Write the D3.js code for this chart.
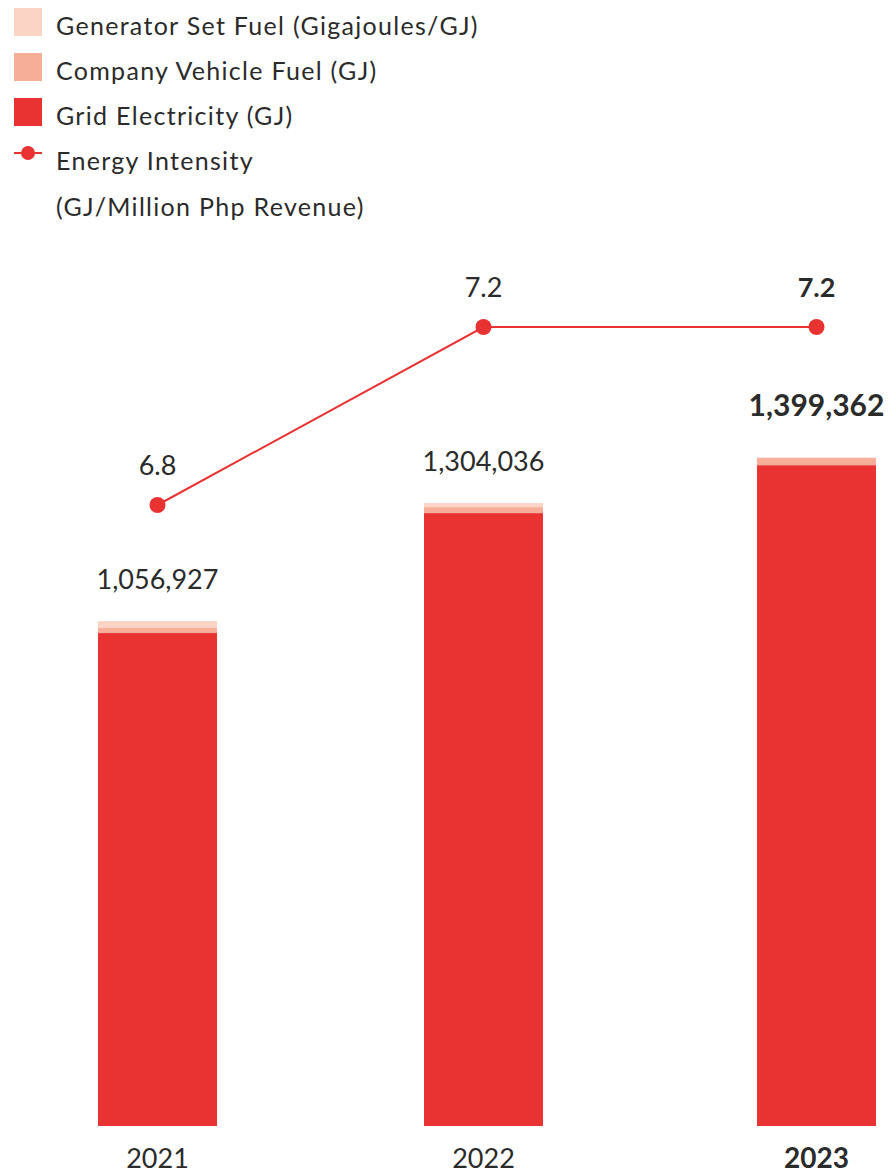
<!DOCTYPE html>
<html>
<head>
<meta charset="utf-8">
<script src="https://cdn.jsdelivr.net/npm/d3@7"></script>
<style>
  body { margin: 0; background: #fff; }
  text { font-family: Lato, "Noto Sans", sans-serif; fill: #2b2b2b; }
</style>
</head>
<body>
<div id="chart"></div>
<script>
// data
var years = ["2021", "2022", "2023"];
var generatorFuel = [14500, 8500, 1000];
var vehicleFuel = [10500, 12500, 15000];
var gridElectricity = [1031927, 1283036, 1383362];
var totals = [1056927, 1304036, 1399362];
var intensity = [6.8, 7.2, 7.2];
var seriesNames = ["Generator Set Fuel (Gigajoules/GJ)", "Company Vehicle Fuel (GJ)", "Grid Electricity (GJ)"];
var seriesColors = ["#fcd4c5", "#f6ae98", "#e93333"];
var lineColor = "#e93333";

var width = 890, height = 1175;

var svg = d3.select("#chart").append("svg")
    .attr("width", width)
    .attr("height", height);

// stacked bars
var table = years.map(function (y, i) {
    return { year: y, grid: gridElectricity[i], vehicle: vehicleFuel[i], generator: generatorFuel[i] };
});
var stack = d3.stack().keys(["grid", "vehicle", "generator"]);
var layers = stack(table);
var keyColor = { grid: seriesColors[2], vehicle: seriesColors[1], generator: seriesColors[0] };

// bar centres are not quite evenly spaced in the original
var x = d3.scaleOrdinal()
    .domain(years)
    .range([157.5, 483.5, 816.5]);
var barWidth = 119;

var y = d3.scaleLinear()
    .domain([0, 1000000])
    .range([1126, 1126 - 477.7]);

svg.selectAll(".layer")
    .data(layers)
    .enter().append("g")
    .attr("class", "layer")
    .attr("fill", function (d) { return keyColor[d.key]; })
    .selectAll("rect")
    .data(function (d) { return d; })
    .enter().append("rect")
    .attr("x", function (d) { return x(d.data.year) - barWidth / 2; })
    .attr("width", barWidth)
    .attr("y", function (d) { return y(d[1]); })
    .attr("height", function (d) { return y(d[0]) - y(d[1]); });

// total labels
svg.selectAll(".total")
    .data(totals)
    .enter().append("text")
    .attr("class", "total")
    .attr("x", function (d, i) { return x(years[i]); })
    .attr("y", function (d, i) { return y(d) - (i == 2 ? 42 : 32); })
    .attr("text-anchor", "middle")
    .attr("font-size", function (d, i) { return i == 2 ? 30 : 27; })
    .attr("font-weight", function (d, i) { return i == 2 ? 700 : 400; })
    .text(function (d) { return d3.format(",")(d); });

// intensity line
var yLine = d3.scaleLinear()
    .domain([6.8, 7.2])
    .range([505, 327]);

svg.append("path")
    .datum(intensity)
    .attr("fill", "none")
    .attr("stroke", lineColor)
    .attr("stroke-width", 2)
    .attr("d", d3.line()
        .x(function (d, i) { return x(years[i]); })
        .y(function (d) { return yLine(d); }));

svg.selectAll(".dot")
    .data(intensity)
    .enter().append("circle")
    .attr("cx", function (d, i) { return x(years[i]); })
    .attr("cy", function (d) { return yLine(d); })
    .attr("r", 8)
    .attr("fill", lineColor);

svg.selectAll(".ilabel")
    .data(intensity)
    .enter().append("text")
    .attr("class", "ilabel")
    .attr("x", function (d, i) { return x(years[i]); })
    .attr("y", function (d) { return yLine(d) - 30; })
    .attr("text-anchor", "middle")
    .attr("font-size", 27)
    .attr("font-weight", function (d, i) { return i == 2 ? 700 : 400; })
    .text(function (d) { return d3.format(".1f")(d); });

// x axis labels
svg.selectAll(".year")
    .data(years)
    .enter().append("text")
    .attr("class", "year")
    .attr("x", function (d) { return x(d); })
    .attr("y", 1168)
    .attr("text-anchor", "middle")
    .attr("font-size", function (d, i) { return i == 2 ? 28 : 27; })
    .attr("font-weight", function (d, i) { return i == 2 ? 700 : 400; })
    .text(function (d) { return d; });

// legend
var legend = svg.append("g")
    .attr("font-size", 25)
    .attr("letter-spacing", 1.3);
seriesNames.forEach(function (name, i) {
    var cy = 22 + i * 45;
    legend.append("rect")
        .attr("x", 14).attr("y", cy - 14)
        .attr("width", 28).attr("height", 28)
        .attr("fill", seriesColors[i]);
    legend.append("text")
        .attr("x", 56).attr("y", cy + 13)
        .text(name);
});
legend.append("line")
    .attr("x1", 14).attr("x2", 42)
    .attr("y1", 153).attr("y2", 153)
    .attr("stroke", lineColor).attr("stroke-width", 2);
legend.append("circle")
    .attr("cx", 28).attr("cy", 153).attr("r", 7)
    .attr("fill", lineColor);
legend.append("text")
    .attr("x", 56).attr("y", 170)
    .text("Energy Intensity");
legend.append("text")
    .attr("x", 56).attr("y", 216)
    .text("(GJ/Million Php Revenue)");
</script>
</body>
</html>
